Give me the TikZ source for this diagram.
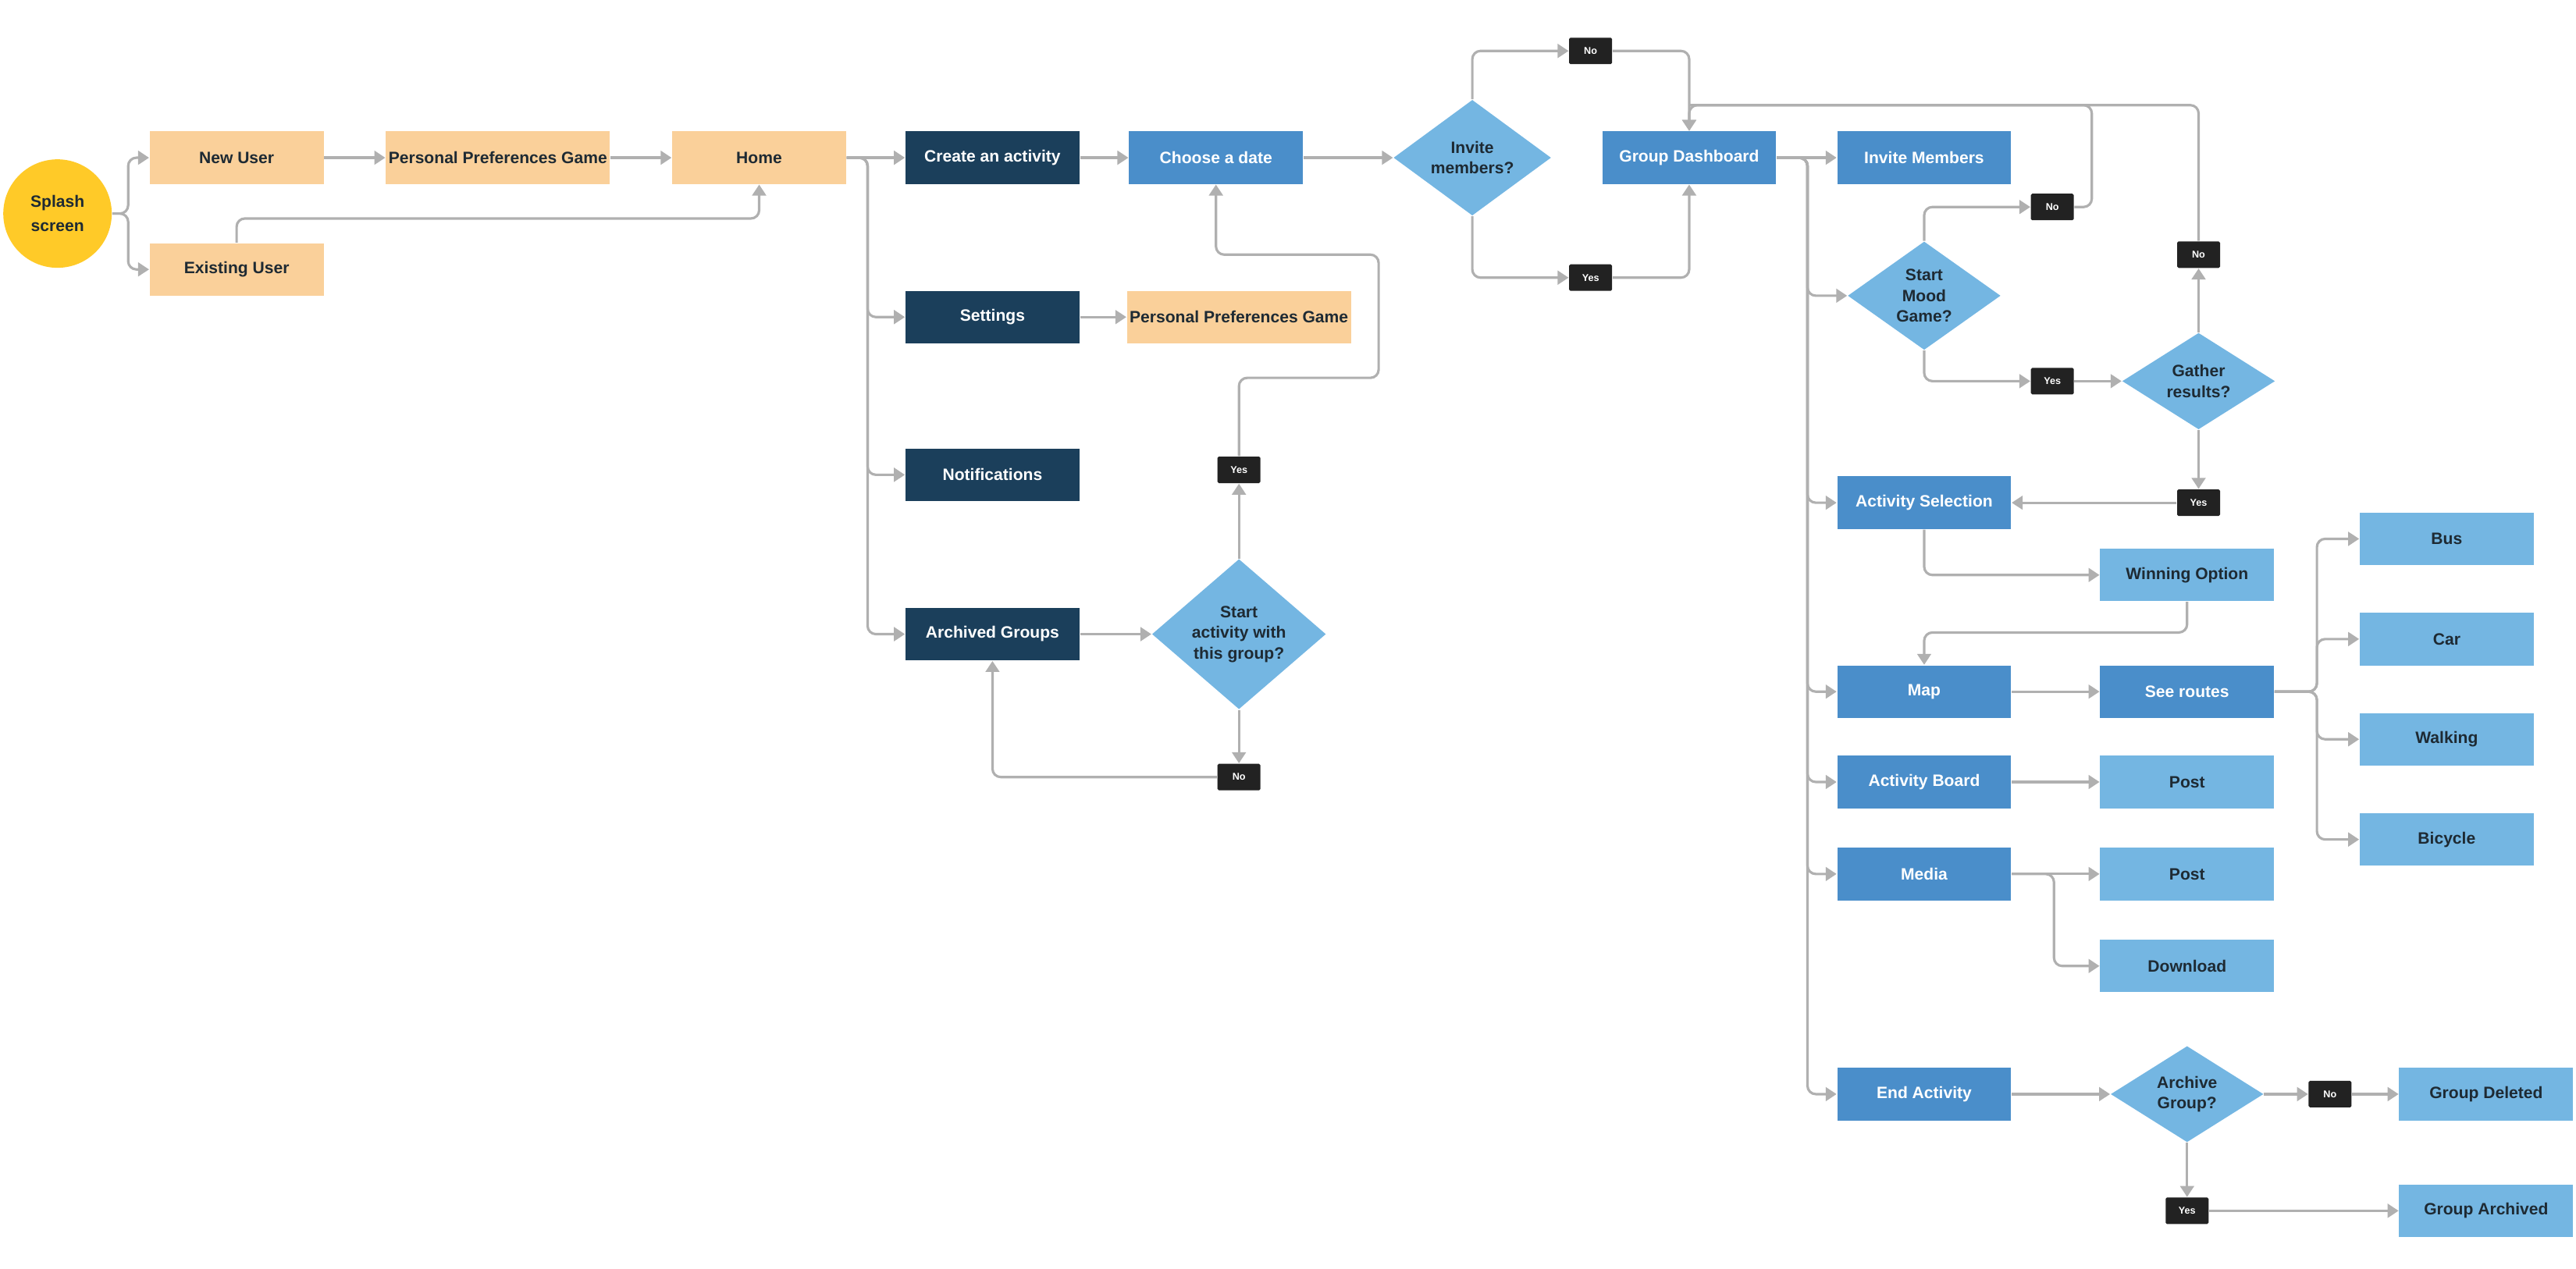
\documentclass[tikz,border=0pt]{standalone}
\usepackage{fontspec}
\setmainfont{Liberation Sans}
\usetikzlibrary{shapes.geometric,arrows.meta}
\definecolor{peach}{HTML}{FAD09A}
\definecolor{splashy}{HTML}{FFCA28}
\definecolor{navy}{HTML}{1B3F5B}
\definecolor{midb}{HTML}{4A8ECA}
\definecolor{lightb}{HTML}{74B6E2}
\definecolor{lbl}{HTML}{222222}
\definecolor{ln}{HTML}{B0B0B0}
\definecolor{txt}{HTML}{1E2A33}
\begin{document}
\begin{tikzpicture}[x=0.02105cm,y=-0.02105cm,
  box/.style={rectangle,minimum width=2.23cm,minimum height=0.674cm,inner sep=1pt,font=\fontsize{6}{7}\selectfont\bfseries},
  wide/.style={box,minimum width=2.86cm},
  pe/.style={box,fill=peach,text=txt},
  nv/.style={box,fill=navy,text=white},
  mb/.style={box,fill=midb,text=white},
  lb/.style={box,fill=lightb,text=txt},
  dia/.style={diamond,fill=lightb,text=txt,inner sep=0pt,aspect=1,align=center,font=\fontsize{6}{7.5}\selectfont\bfseries},
  tag/.style={rectangle,fill=lbl,text=white,minimum width=0.55cm,minimum height=0.34cm,inner sep=0pt,rounded corners=0.5pt,font=\fontsize{3.6}{4}\selectfont\bfseries},
  ar/.style={draw=ln,line width=0.9pt,rounded corners=3pt,-{Triangle[width=5pt,length=4pt]}},
  pl/.style={draw=ln,line width=0.9pt,rounded corners=3pt}]
\useasboundingbox (0,0) rectangle (1567.7,772.4);
% nodes
\node[circle,fill=splashy,minimum size=1.39cm,inner sep=0pt,align=center,text=txt,font=\fontsize{6}{9}\selectfont\bfseries] (splash) at (35,130) {Splash\\screen};
\node[pe] (newu) at (144,96) {New User};
\node[pe,wide] (ppg1) at (303,96) {Personal Preferences Game};
\node[pe] (home) at (462,96) {Home};
\node[pe] (exist) at (144,164) {Existing User};
\node[nv] (create) at (604,96) {Create an activity};
\node[nv] (settings) at (604,193) {Settings};
\node[nv] (notif) at (604,289) {Notifications};
\node[nv] (archived) at (604,386) {Archived Groups};
\node[pe,wide] (ppg2) at (754,193) {Personal Preferences Game};
\node[mb] (choose) at (740,96) {Choose a date};
\node[dia,minimum width=2.02cm] (invite) at (896,96) {Invite\\members?};
\node[dia,minimum width=2.23cm] (startact) at (754,386) {Start\\activity with\\this group?};
\node[tag] (yes1) at (754,286) {Yes};
\node[tag] (no1) at (754,473) {No};
\node[tag] (noinv) at (968,31) {No};
\node[tag] (yesinv) at (968,169) {Yes};
\node[mb] (gd) at (1028,96) {Group Dashboard};
\node[mb] (invm) at (1171,96) {Invite Members};
\node[dia,minimum width=1.96cm] (mood) at (1171,180) {Start\\Mood\\Game?};
\node[tag] (nomood) at (1249,126) {No};
\node[tag] (yesmood) at (1249,232) {Yes};
\node[dia,minimum width=1.96cm] (gather) at (1338,232) {Gather\\results?};
\node[tag] (nog) at (1338,155) {No};
\node[tag] (yesg) at (1338,306) {Yes};
\node[mb] (actsel) at (1171,306) {Activity Selection};
\node[lb] (win) at (1331,350) {Winning Option};
\node[mb] (map) at (1171,421) {Map};
\node[mb] (routes) at (1331,421) {See routes};
\node[lb] (bus) at (1489,328) {Bus};
\node[lb] (car) at (1489,389) {Car};
\node[lb] (walk) at (1489,450) {Walking};
\node[lb] (bicy) at (1489,511) {Bicycle};
\node[mb] (board) at (1171,476) {Activity Board};
\node[lb] (post1) at (1331,476) {Post};
\node[mb] (media) at (1171,532) {Media};
\node[lb] (post2) at (1331,532) {Post};
\node[lb] (dl) at (1331,588) {Download};
\node[mb] (endact) at (1171,666) {End Activity};
\node[dia,minimum width=1.96cm] (archq) at (1331,666) {Archive\\Group?};
\node[tag] (noa) at (1418,666) {No};
\node[tag] (yesa) at (1331,737) {Yes};
\node[lb] (gdel) at (1513,666) {Group Deleted};
\node[lb] (garch) at (1513,737) {Group Archived};
% helper coordinates
\coordinate (s1) at (78,130);
\coordinate (h1) at (528,96);
\coordinate (e1) at (144,133);
\coordinate (p1) at (839,230);
\coordinate (p2) at (839,155);
\coordinate (g1) at (1100,96);
\coordinate (top) at (1028,64);
\coordinate (tm) at (1273,64);
\coordinate (tg) at (1338,64);
\coordinate (w1) at (1171,385);
\coordinate (r1) at (1410,421);
\coordinate (m1) at (1250,532);
% connectors
\draw[ar] (splash.east) -- (s1) |- (newu.west);
\draw[ar] (splash.east) -- (s1) |- (exist.west);
\draw[ar] (newu) -- (ppg1);
\draw[ar] (ppg1) -- (home);
\draw[ar] (exist.north) -- (e1) -| (home.south);
\draw[ar] (home) -- (create);
\draw[ar] (home.east) -- (h1) |- (settings.west);
\draw[ar] (home.east) -- (h1) |- (notif.west);
\draw[ar] (home.east) -- (h1) |- (archived.west);
\draw[ar] (settings) -- (ppg2);
\draw[ar] (create) -- (choose);
\draw[ar] (choose) -- (invite);
\draw[ar] (invite.north) |- (noinv.west);
\draw[ar] (noinv.east) -| (gd.north);
\draw[ar] (invite.south) |- (yesinv.west);
\draw[ar] (yesinv.east) -| (gd.south);
\draw[ar] (archived) -- (startact);
\draw[ar] (startact.north) -- (yes1.south);
\draw[ar] (yes1.north) |- (p1) -- (p2) -| (choose.south);
\draw[ar] (startact.south) -- (no1.north);
\draw[ar] (no1.west) -| (archived.south);
\draw[ar] (gd) -- (invm);
\draw[ar] (gd.east) -- (g1) |- (mood.west);
\draw[ar] (gd.east) -- (g1) |- (actsel.west);
\draw[ar] (gd.east) -- (g1) |- (map.west);
\draw[ar] (gd.east) -- (g1) |- (board.west);
\draw[ar] (gd.east) -- (g1) |- (media.west);
\draw[ar] (gd.east) -- (g1) |- (endact.west);
\draw[ar] (mood.north) |- (nomood.west);
\draw[pl] (nomood.east) -| (tm) -- (top);
\draw[ar] (mood.south) |- (yesmood.west);
\draw[ar] (yesmood) -- (gather);
\draw[ar] (gather.north) -- (nog.south);
\draw[ar] (nog.north) |- (top) -- (gd.north);
\draw[ar] (gather.south) -- (yesg.north);
\draw[ar] (yesg) -- (actsel);
\draw[ar] (actsel.south) |- (win.west);
\draw[ar] (win.south) |- (w1) -- (map.north);
\draw[ar] (map) -- (routes);
\draw[ar] (routes.east) -- (r1) |- (bus.west);
\draw[ar] (routes.east) -- (r1) |- (car.west);
\draw[ar] (routes.east) -- (r1) |- (walk.west);
\draw[ar] (routes.east) -- (r1) |- (bicy.west);
\draw[ar] (board) -- (post1);
\draw[ar] (media) -- (post2);
\draw[ar] (media.east) -- (m1) |- (dl.west);
\draw[ar] (endact) -- (archq);
\draw[ar] (archq) -- (noa);
\draw[ar] (noa) -- (gdel);
\draw[ar] (archq.south) -- (yesa.north);
\draw[ar] (yesa) -- (garch);
\end{tikzpicture}
\end{document}
